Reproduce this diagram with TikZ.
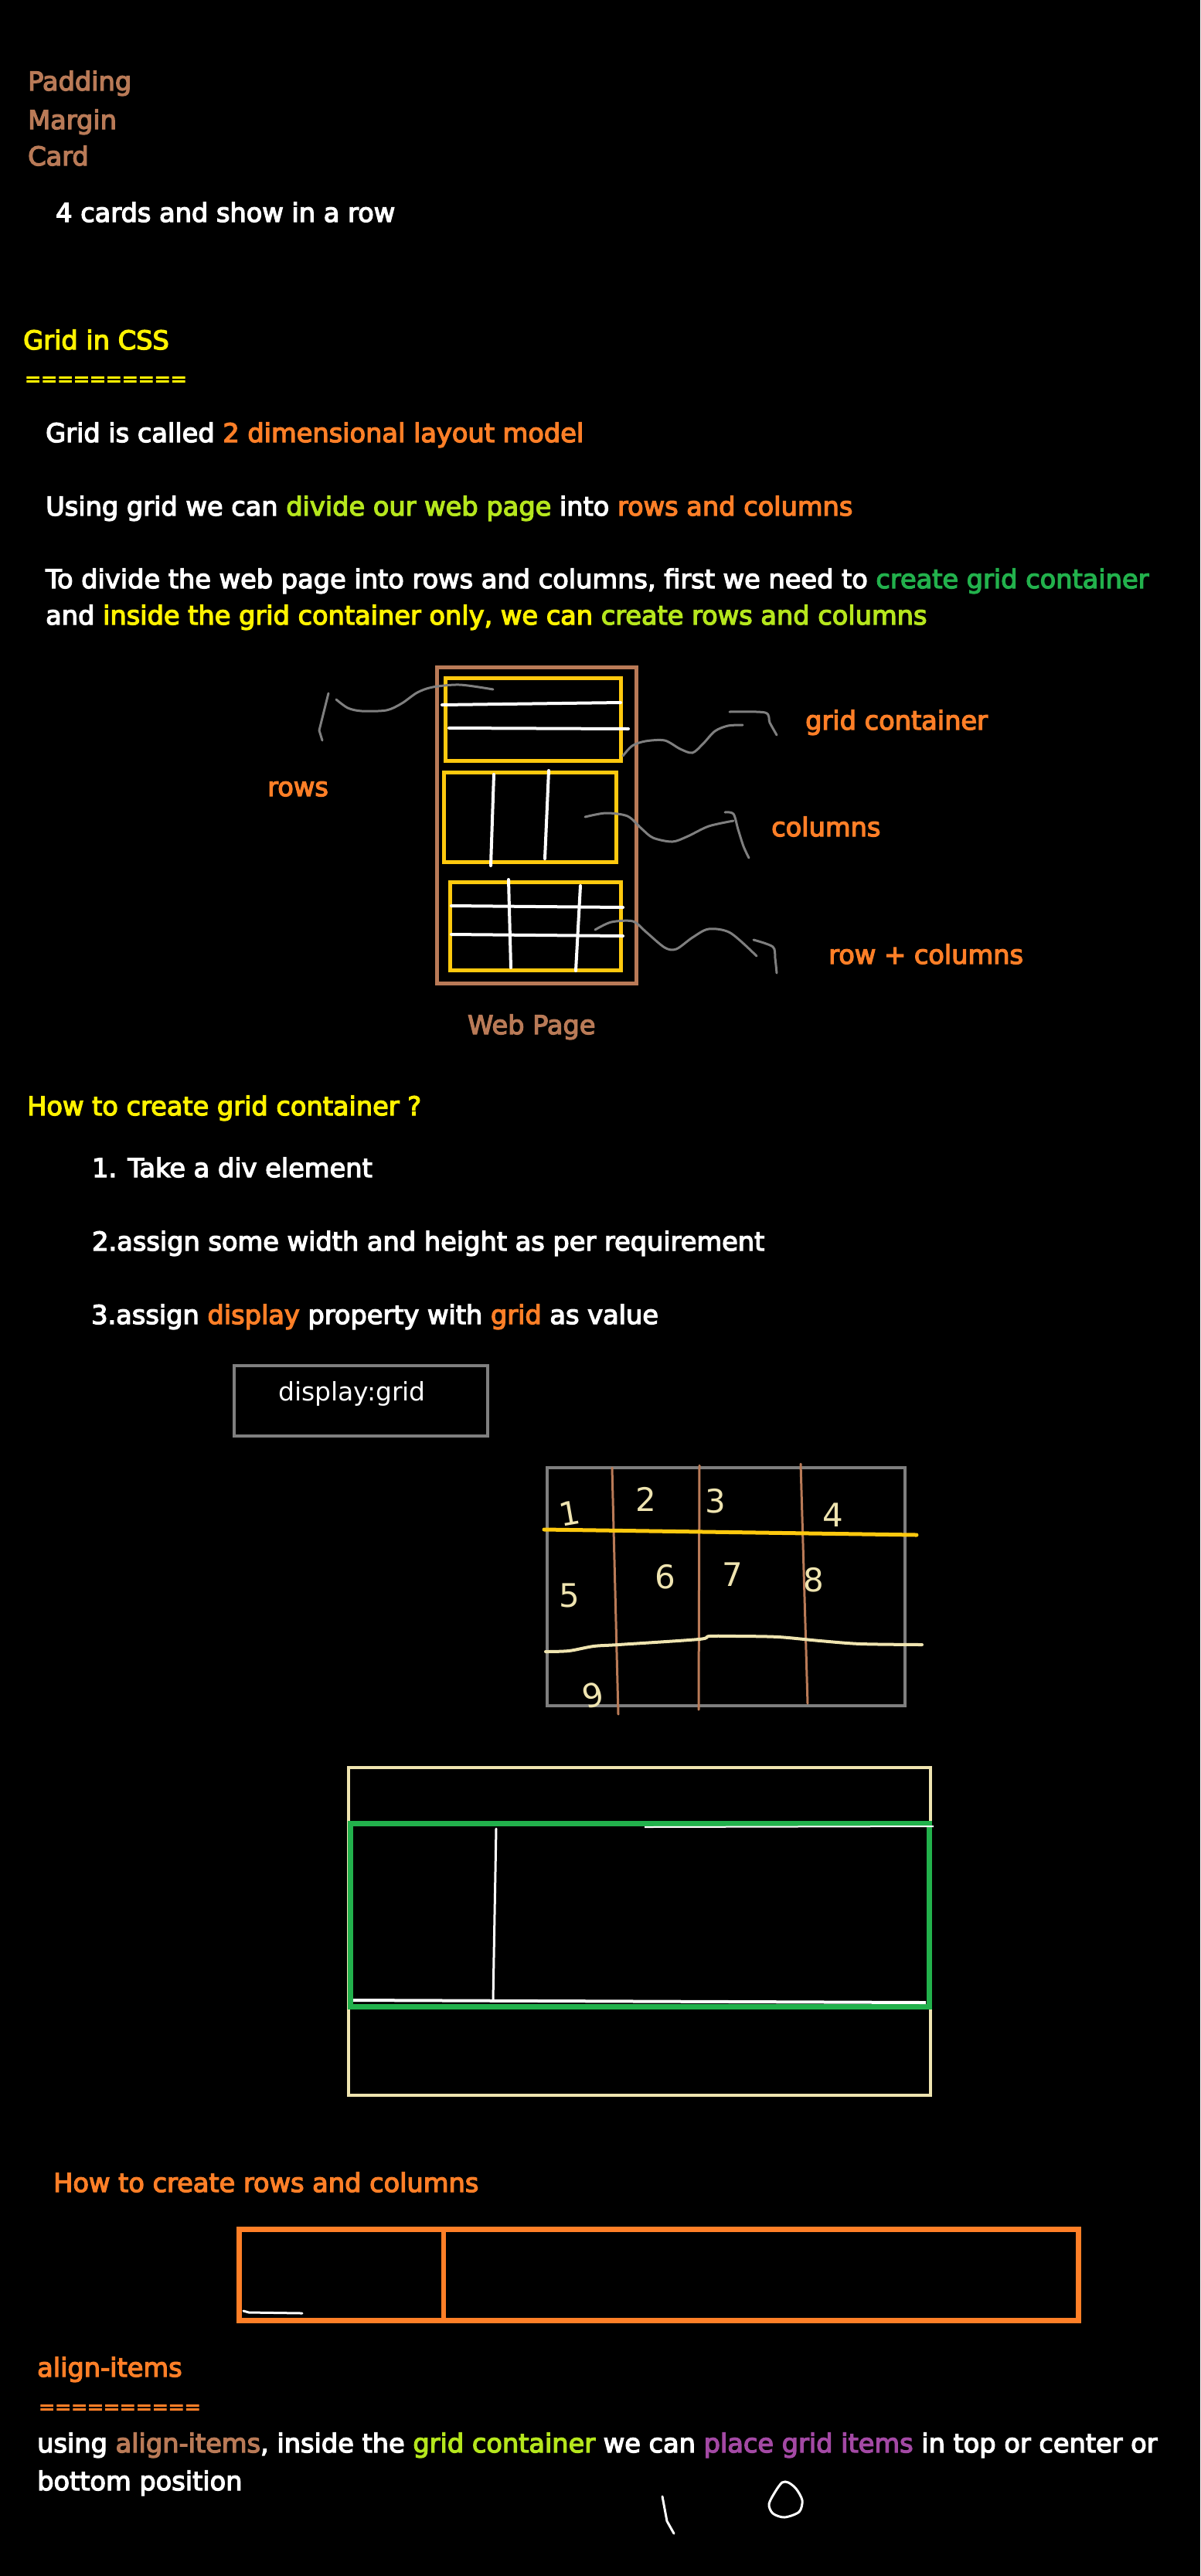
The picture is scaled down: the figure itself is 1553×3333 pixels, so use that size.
\documentclass[tikz,border=0pt]{standalone}
\usepackage{fontspec}
\setmainfont{DejaVu Sans}
\newfontfamily\handfont{DejaVu Sans}[FakeBold=4]
\newfontfamily\plainfont{DejaVu Sans}
\definecolor{cbrown}{HTML}{B97A57}
\definecolor{corange}{HTML}{FF7F27}
\definecolor{cyellow}{HTML}{FFF200}
\definecolor{cygreen}{HTML}{B5E61D}
\definecolor{cgreen}{HTML}{22B14C}
\definecolor{cgold}{HTML}{FFC90E}
\definecolor{ccream}{HTML}{EFE4B0}
\definecolor{cgray}{HTML}{7F7F7F}
\definecolor{cpurple}{HTML}{A349A4}
\begin{document}
\begin{tikzpicture}[x=1pt,y=-1pt,
  txt/.style={anchor=base west, inner sep=0pt, text=white, font=\handfont\fontsize{33.6}{40}\selectfont},
  eqline/.style={anchor=base west, inner sep=0pt, font=\handfont\fontsize{25}{30}\selectfont},
  digit/.style={inner sep=0pt, text=ccream, font=\plainfont\fontsize{42}{46}\selectfont},
  sketch/.style={cgray, line width=3pt, line cap=round, line join=round},
  wline/.style={white, line width=4pt, line cap=round}]
\fill[black] (0,0) rectangle (1553,3333);
\useasboundingbox (0,0) rectangle (1553,3333);

% ---------- top notes ----------
\node[txt, text=cbrown] (pad) at (36,117) {Padding};
\node[txt, text=cbrown] (mar) at (36,167) {Margin};
\node[txt, text=cbrown] (card) at (36,214) {Card};
\node[txt] (four) at (72,287) {4 cards and show in a row};

% ---------- Grid in CSS ----------
\node[txt, text=cyellow] (h1) at (30,452) {Grid in CSS};
\node[eqline, text=cyellow] (h1eq) at (32,499) {==========};
\node[txt] (p1) at (59,572) {Grid is called \textcolor{corange}{2 dimensional layout model}};
\node[txt] (p2) at (59,667) {Using grid we can \textcolor{cygreen}{divide our web page} into \textcolor{corange}{rows and columns}};
\node[txt] (p3) at (59,761) {To divide the web page into rows and columns, first we need to \textcolor{cgreen}{create grid container}};
\node[txt] (p4) at (59,808) {and \textcolor{cyellow}{inside the grid container only, we can} \textcolor{cygreen}{create rows and columns}};

% ---------- web page sketch ----------
\draw[cbrown, line width=5pt] (565,863) rectangle (823,1272);
\draw[cgold, line width=5pt] (576,877) rectangle (803,984);
\draw[wline] (572,912) -- (803,909);
\draw[wline] (581,942) -- (813,943);
\draw[cgold, line width=5pt] (574,999) rectangle (797,1115);
\draw[wline] (639,1002) -- (635,1120);
\draw[wline] (710,997) -- (705,1111);
\draw[cgold, line width=5pt] (582,1141) rectangle (803,1255);
\draw[wline] (584,1172) -- (806,1174);
\draw[wline] (584,1209) -- (806,1211);
\draw[wline] (658,1138) -- (661,1252);
\draw[wline] (751,1146) -- (745,1256);

% gray pointer squiggles
\draw[sketch] (425,897) -- (413,945) -- (417,958);
\draw[sketch] plot[smooth] coordinates {(435,905) (450,916) (468,920) (500,919) (520,910) (540,896) (560,889) (595,886) (638,892)};
\draw[sketch] plot[smooth] coordinates {(806,978) (818,965) (835,959) (860,958) (880,969) (896,974) (910,962) (925,946) (942,939) (961,938)};
\draw[sketch] plot[smooth] coordinates {(944,921) (990,922) (996,935) (1005,951)};
\draw[sketch] plot[smooth] coordinates {(757,1057) (784,1052) (812,1056) (830,1072) (845,1084) (870,1089) (890,1082) (917,1069) (949,1062)};
\draw[sketch] plot[smooth] coordinates {(938,1051) (949,1053) (955,1073) (962,1095) (969,1110)};
\draw[sketch] plot[smooth] coordinates {(770,1203) (791,1193) (819,1192) (835,1205) (860,1226) (875,1228) (896,1213) (917,1202) (945,1207) (979,1237)};
\draw[sketch] plot[smooth] coordinates {(975,1216) (1000,1225) (1003,1240) (1005,1259)};

\node[txt, text=corange] (lrows) at (346,1030) {rows};
\node[txt, text=corange] (lgc) at (1042,944) {grid container};
\node[txt, text=corange] (lcols) at (998,1082) {columns};
\node[txt, text=corange] (lrc) at (1072,1247) {row + columns};
\node[txt, text=cbrown] (lweb) at (605,1338) {Web Page};

% ---------- How to create grid container ----------
\node[txt, text=cyellow] (h2) at (35,1443) {How to create grid container ?};
\node[txt] (s1) at (119,1523) {1. Take a div element};
\node[txt] (s2) at (119,1618) {2.assign some width and height as per requirement};
\node[txt] (s3) at (118,1713) {3.assign \textcolor{corange}{display} property with \textcolor{corange}{grid} as value};

\draw[cgray, line width=4pt] (303,1767) rectangle (631,1858);
\node[anchor=base west, inner sep=0pt, text=white, font=\plainfont\fontsize{33}{40}\selectfont] (dg) at (360,1812) {display:grid};

% grid sketch
\draw[cgray, line width=4pt] (708,1899) rectangle (1171,2207);
\draw[cbrown, line width=3pt, line cap=round] (792,1899) -- (800,2218);
\draw[cbrown, line width=3pt, line cap=round] (905,1896) -- (904,2212);
\draw[cbrown, line width=3pt, line cap=round] (1036,1894) -- (1045,2204);
\draw[cgold, line width=5pt, line cap=round] (704,1979) -- (1186,1986);
\draw[ccream, line width=4pt, line cap=round] plot[smooth] coordinates {(706,2137) (736,2136) (768,2130) (800,2128) (904,2121) (918,2117) (954,2117) (1007,2118) (1061,2123) (1114,2127) (1193,2128)};
\node[digit, rotate=10] (n1) at (737,1958) {1};
\node[digit] (n2) at (836,1940) {2};
\node[digit] (n3) at (926,1942) {3};
\node[digit] (n4) at (1078,1960) {4};
\node[digit] (n5) at (737,2064) {5};
\node[digit] (n6) at (861,2040) {6};
\node[digit] (n7) at (948,2037) {7};
\node[digit] (n8) at (1053,2044) {8};
\node[digit, rotate=15] (n9) at (767,2193) {9};

% cream / green boxes
\draw[ccream, line width=4.5pt] (451,2287) rectangle (1204,2711);
\draw[cgreen, line width=7pt] (453,2359) rectangle (1202,2596);
\draw[white, line width=3pt, line cap=round] (642,2366) -- (638,2588);
\draw[white, line width=4pt] (457,2588) -- (1198,2591);
\draw[white, line width=2pt] (834,2364) -- (1208,2363);

% ---------- How to create rows and columns ----------
\node[txt, text=corange] (h3) at (69,2836) {How to create rows and columns};
\draw[corange, line width=7pt] (309,2884) rectangle (1395,3002);
\draw[corange, line width=6pt] (574,2884) -- (574,3002);
\draw[white, line width=3pt, line cap=round] (315,2990) -- (322,2992) -- (391,2993);

% ---------- align-items ----------
\node[txt, text=corange] (h4) at (48,3075) {align-items};
\node[eqline, text=corange] (h4eq) at (50,3123) {==========};
\node[txt] (q1) at (48,3173) {using \textcolor{cbrown}{align-items}, inside the \textcolor{cygreen}{grid container} we can \textcolor{cpurple}{place grid items} in top or center or};
\node[txt] (q2) at (48,3222) {bottom position};

\draw[white, line width=3pt, line cap=round] (857,3230) -- (863,3262) -- (872,3278);
\draw[white, line width=3pt] plot[smooth cycle] coordinates {(1012,3212) (1003,3224) (995,3240) (1000,3252) (1015,3257) (1034,3250) (1038,3235) (1030,3220) (1020,3212)};
\end{tikzpicture}
\end{document}
